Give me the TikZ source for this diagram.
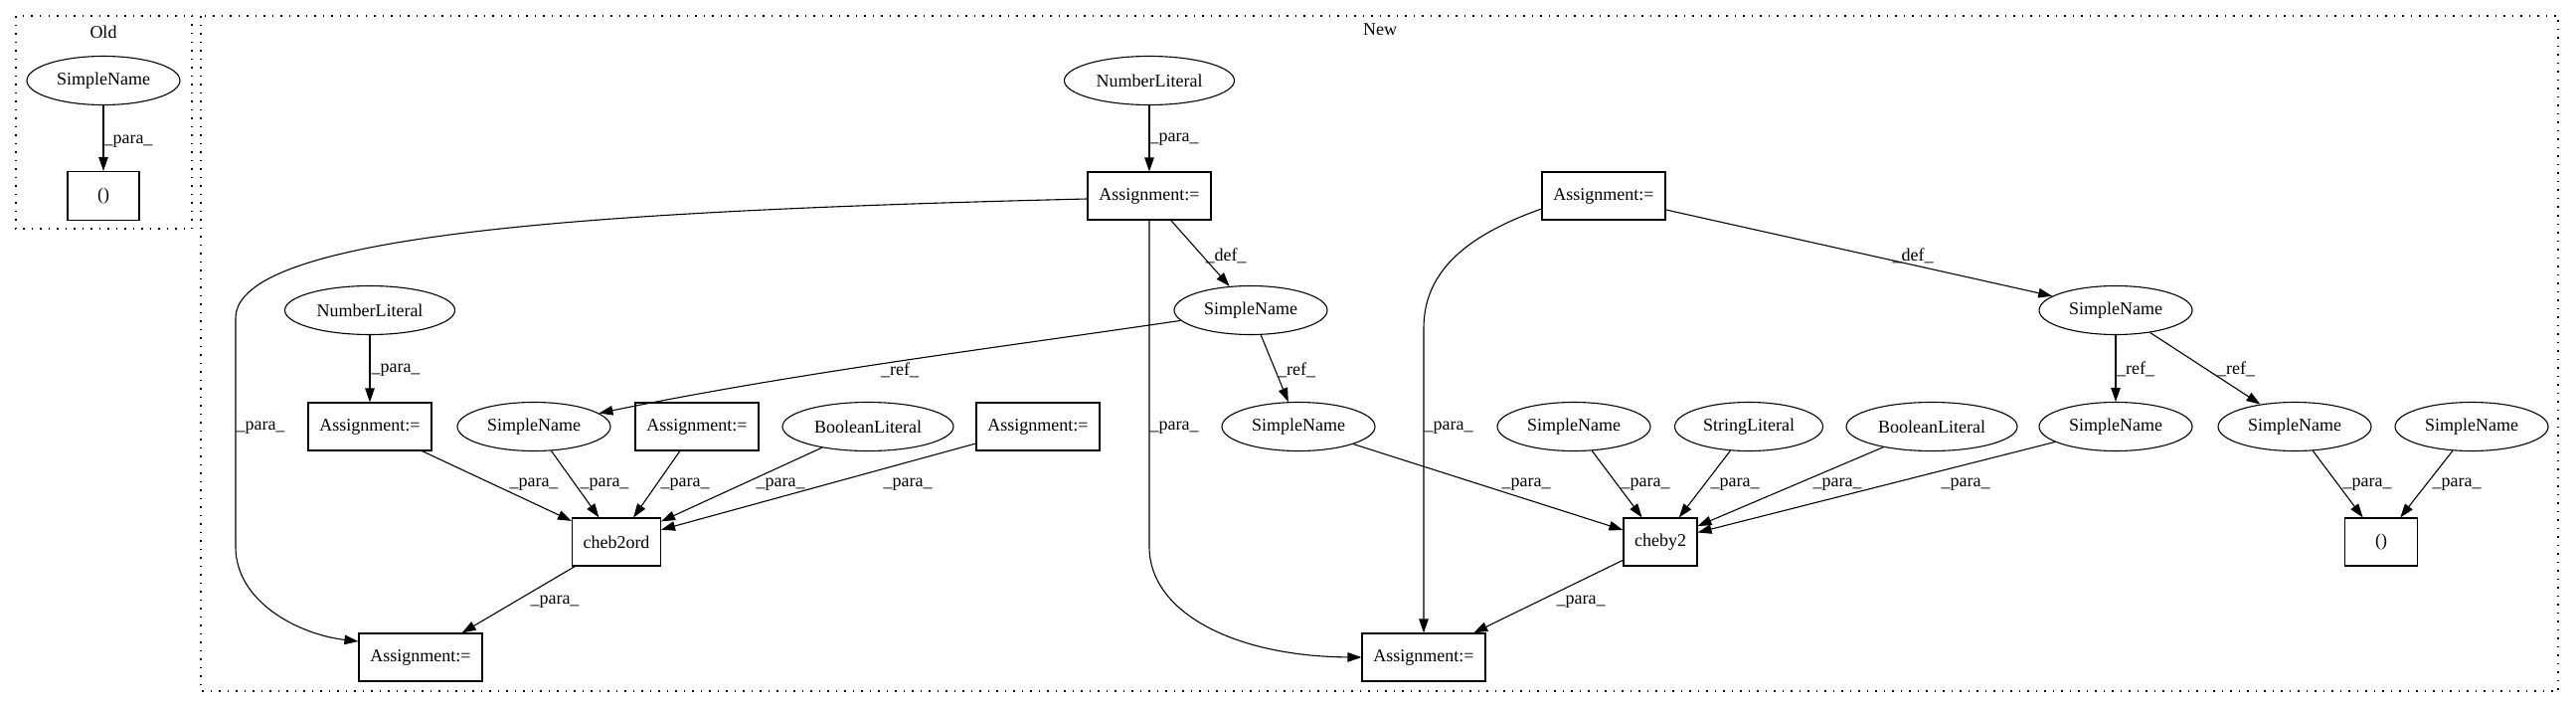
\documentclass[tikz,border=0pt]{standalone}
\usepackage{fontspec}
\setmainfont{Liberation Serif}
\usetikzlibrary{shapes.geometric,arrows.meta,calc}
\begin{document}
\begin{tikzpicture}[x=1pt,y=-1pt,
  every node/.style={font=\fontsize{18}{20}\selectfont},
  ell/.style={draw, ellipse, line width=1.1pt, inner sep=0pt, minimum height=49pt, minimum width=154pt},
  box/.style={draw, rectangle, line width=1.1pt, inner sep=0pt, minimum height=48pt, minimum width=124pt},
  edge/.style={line width=1.1pt, -{Triangle[length=14pt,width=9.5pt]}},
  lbl/.style={inner sep=0pt},
  cluster/.style={line width=1.2pt, dash pattern=on 1.5pt off 7pt}]
\useasboundingbox (0,0) rectangle (2591,712);
% clusters
\draw[cluster] (16,16) rectangle (193,230);
\draw[cluster] (202,16) rectangle (2573,695);
\node (oldt) at (104,32) {Old};
\node (newt) at (1388,30) {New};
% Old
\node[ell] (os) at (104,81) {SimpleName};
\node[box, minimum width=72pt, minimum height=49pt] (op) at (104,197) {()};
\draw[edge] (os) -- (op) node[lbl] at (129,142) {\_para\_};
% New nodes
\node[ell, minimum width=171pt] (nl1) at (1156,81) {NumberLiteral};
\node[box] (a1) at (1156,197) {Assignment:=};
\node[box] (a2) at (1613,197) {Assignment:=};
\node[ell] (s1) at (1258,312) {SimpleName};
\node[ell] (s3) at (2128,312) {SimpleName};
\node[ell, minimum width=171pt] (nl2) at (372,312) {NumberLiteral};
\node[box] (asgl) at (372,429) {Assignment:=};
\node[ell] (s2) at (537,429) {SimpleName};
\node[box] (asgm) at (701,429) {Assignment:=};
\node[ell, minimum width=172pt] (b1) at (873,429) {BooleanLiteral};
\node[box] (asgr) at (1044,429) {Assignment:=};
\node[ell] (s4) at (1306,429) {SimpleName};
\node[ell] (s5) at (1583,429) {SimpleName};
\node[ell, minimum width=149pt] (str) at (1759,429) {StringLiteral};
\node[ell, minimum width=172pt] (b2) at (1943,429) {BooleanLiteral};
\node[ell] (s6) at (2128,429) {SimpleName};
\node[ell] (s7) at (2308,429) {SimpleName};
\node[ell] (s8) at (2486,429) {SimpleName};
\node[box, minimum width=89pt] (c1) at (620,545) {cheb2ord};
\node[box, minimum width=74pt] (c2) at (1670,545) {cheby2};
\node[box, minimum width=73pt] (p2) at (2395,545) {()};
\node[box] (abl) at (423,661) {Assignment:=};
\node[box] (abr) at (1432,661) {Assignment:=};
% New edges
\draw[edge] (nl1) -- (a1) node[lbl] at (1181,140) {\_para\_};
\draw[edge] (a1) -- (s1) node[lbl] at (1233,257) {\_def\_};
\draw[edge] (a2) -- (s3) node[lbl] at (1924,257) {\_def\_};
\draw[edge] (s1) .. controls (1000,350) and (800,375) .. (s2) node[lbl] at (905,372) {\_ref\_};
\draw[edge] (s1) -- (s4) node[lbl] at (1304,372) {\_ref\_};
\draw[edge] (nl2) -- (asgl) node[lbl] at (398,372) {\_para\_};
\draw[edge] ($(a1.west)+(0,3)$) .. controls (600,212) and (237,235) .. (237,320) -- (237,550) .. controls (237,605) and (300,638) .. ($(abl.west)+(0,-16)$) node[lbl] at (262,430) {\_para\_};
\draw[edge] (a1.south) -- (1156,550) .. controls (1156,615) and (1240,660) .. (abr.west) node[lbl] at (1181,430) {\_para\_};
\draw[edge] ($(a2.west)+(0,13)$) .. controls (1480,235) and (1432,270) .. (1432,330) -- (abr.north) node[lbl] at (1457,430) {\_para\_};
\draw[edge] (asgl) -- (c1) node[lbl] at (537,487) {\_para\_};
\draw[edge] (s2) -- (c1) node[lbl] at (608,487) {\_para\_};
\draw[edge] (asgm) -- (c1) node[lbl] at (689,487) {\_para\_};
\draw[edge] (b1) -- (c1) node[lbl] at (785,487) {\_para\_};
\draw[edge] (asgr) -- (c1) node[lbl] at (913,487) {\_para\_};
\draw[edge] (c1) -- (abl) node[lbl] at (558,605) {\_para\_};
\draw[edge] (s4) -- (c2) node[lbl] at (1535,487) {\_para\_};
\draw[edge] (s5) -- (c2) node[lbl] at (1655,487) {\_para\_};
\draw[edge] (str) -- (c2) node[lbl] at (1745,487) {\_para\_};
\draw[edge] (b2) -- (c2) node[lbl] at (1848,487) {\_para\_};
\draw[edge] (s6) -- (c2) node[lbl] at (1977,487) {\_para\_};
\draw[edge] (c2) -- (abr) node[lbl] at (1590,605) {\_para\_};
\draw[edge] (s3) -- (s6) node[lbl] at (2148,371) {\_ref\_};
\draw[edge] (s3) -- (s7) node[lbl] at (2249,371) {\_ref\_};
\draw[edge] (s7) -- (p2) node[lbl] at (2381,487) {\_para\_};
\draw[edge] (s8) -- (p2) node[lbl] at (2471,487) {\_para\_};
\end{tikzpicture}
\end{document}
